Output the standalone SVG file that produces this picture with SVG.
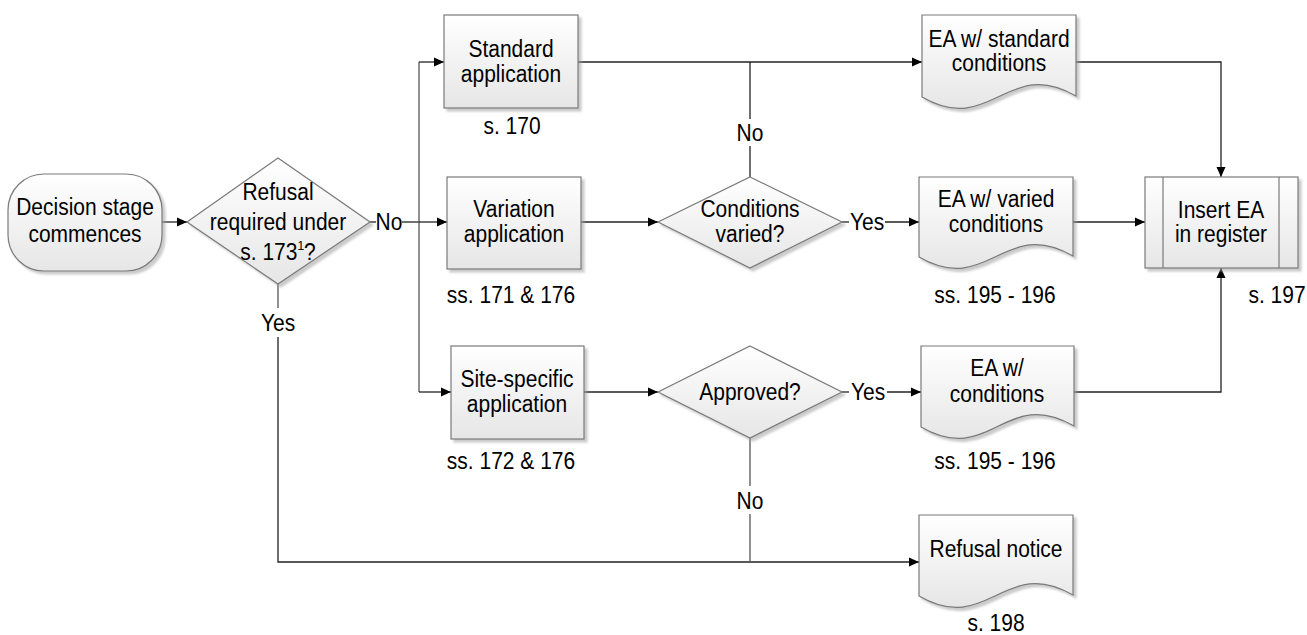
<svg xmlns="http://www.w3.org/2000/svg" width="1307" height="635" viewBox="0 0 1307 635">
<defs>
<linearGradient id="g" x1="0" y1="0" x2="0" y2="1">
<stop offset="0" stop-color="#ffffff"/>
<stop offset="1" stop-color="#e6e6e6"/>
</linearGradient>
<filter id="sh" x="-10%" y="-10%" width="130%" height="130%">
<feDropShadow dx="3" dy="3" stdDeviation="1.2" flood-color="#a0a0a0" flood-opacity="0.55"/>
</filter>
<marker id="arr" viewBox="0 0 10 10" refX="10" refY="5" markerWidth="10" markerHeight="10" markerUnits="userSpaceOnUse" orient="auto">
<path d="M0,0.5 L10,5 L0,9.5 Z" fill="#000"/>
</marker>
</defs>
<style>
.s{fill:url(#g);stroke:#7a7a7a;stroke-width:1.2;filter:url(#sh)}
.ln{fill:none;stroke:#7a7a7a;stroke-width:1.2}
.c{fill:none;stroke:#222;stroke-width:1.3}
.ca{fill:none;stroke:#222;stroke-width:1.3;marker-end:url(#arr)}
.b{fill:none;stroke:#555;stroke-width:1.3}
text{font-family:"Liberation Sans",Arial,sans-serif;font-size:21px;fill:#000;text-anchor:middle}
</style>

<g id="connectors">
<path class="ca" d="M162,222 H187"/>
<path class="c" d="M370,222 H376"/>
<path class="c" d="M402,222 H419"/>
<path class="b" d="M419,62 V392"/>
<path class="ca" d="M419,62 H444"/>
<path class="ca" d="M419,222 H447"/>
<path class="ca" d="M419,392 H451"/>
<path class="ca" d="M578,62 H922"/>
<path class="c" d="M750,177 V146"/>
<path class="c" d="M750,119 V62"/>
<path class="ca" d="M1076,62 H1221 V177"/>
<path class="ca" d="M581,222 H658"/>
<path class="c" d="M842,222 H849"/>
<path class="ca" d="M885,222 H919"/>
<path class="ca" d="M1073,222 H1145"/>
<path class="ca" d="M584,392 H658"/>
<path class="c" d="M842,392 H849"/>
<path class="ca" d="M887,392 H921"/>
<path class="ca" d="M1074,392 H1221 V268"/>
<path class="b" d="M278,284 V308"/>
<path class="ca" d="M278,337 V562 H919"/>
<path class="b" d="M750,438 V486"/>
<path class="b" d="M750,514 V562"/>
<text transform="translate(389 230) scale(1 1.12)">No</text>
<text transform="translate(750 141) scale(1 1.12)">No</text>
<text transform="translate(867 230) scale(1 1.12)">Yes</text>
<text transform="translate(868 400) scale(1 1.12)">Yes</text>
<text transform="translate(278 331) scale(1 1.12)">Yes</text>
<text transform="translate(750 509) scale(1 1.12)">No</text>
</g>

<g id="start">
<rect class="s" x="8" y="174" width="154" height="97" rx="36" ry="36"/>
<text transform="translate(85 215) scale(1 1.12)">Decision stage</text>
<text transform="translate(85 242) scale(1 1.12)">commences</text>
</g>

<g id="refusal-decision">
<polygon class="s" points="278,158 370,222 278,284 187,222"/>
<text transform="translate(278 200) scale(1 1.12)">Refusal</text>
<text transform="translate(278 230) scale(1 1.12)">required under</text>
<text transform="translate(278 260) scale(1 1.12)">s. 173<tspan font-size="12" dy="-9">1</tspan><tspan dy="9">?</tspan></text>
</g>

<g id="standard-app">
<rect class="s" x="444" y="15" width="134" height="93"/>
<text transform="translate(511 57) scale(1 1.12)">Standard</text>
<text transform="translate(511 82) scale(1 1.12)">application</text>
<text transform="translate(512 134) scale(1 1.12)">s. 170</text>
</g>

<g id="variation-app">
<rect class="s" x="447" y="177" width="134" height="92"/>
<text transform="translate(514 217) scale(1 1.12)">Variation</text>
<text transform="translate(514 242) scale(1 1.12)">application</text>
<text transform="translate(511 303) scale(1 1.12)">ss. 171 &amp; 176</text>
</g>

<g id="site-app">
<rect class="s" x="451" y="346" width="133" height="93"/>
<text transform="translate(517 387) scale(1 1.12)">Site-specific</text>
<text transform="translate(517 412) scale(1 1.12)">application</text>
<text transform="translate(511 469) scale(1 1.12)">ss. 172 &amp; 176</text>
</g>

<g id="conditions-varied">
<polygon class="s" points="750,177 842,222 750,268 658,222"/>
<text transform="translate(750 217) scale(1 1.12)">Conditions</text>
<text transform="translate(750 242) scale(1 1.12)">varied?</text>
</g>

<g id="approved">
<polygon class="s" points="750,346 842,392 750,438 658,392"/>
<text transform="translate(750 400) scale(1 1.12)">Approved?</text>
</g>

<g id="ea-standard">
<path class="s" d="M922,15 H1076 V96 C1007,56 991,137 922,97 Z"/>
<text transform="translate(999 47) scale(1 1.12)">EA w/ standard</text>
<text transform="translate(999 71) scale(1 1.12)">conditions</text>
</g>

<g id="ea-varied">
<path class="s" d="M919,177 H1073 V256 C1004,216 988,297 919,257 Z"/>
<text transform="translate(996 207) scale(1 1.12)">EA w/ varied</text>
<text transform="translate(996 232) scale(1 1.12)">conditions</text>
<text transform="translate(995 303) scale(1 1.12)">ss. 195 - 196</text>
</g>

<g id="ea-conditions">
<path class="s" d="M921,346 H1074 V426 C1005,386 990,467 921,427 Z"/>
<text transform="translate(997 376) scale(1 1.12)">EA w/</text>
<text transform="translate(997 402) scale(1 1.12)">conditions</text>
<text transform="translate(995 469) scale(1 1.12)">ss. 195 - 196</text>
</g>

<g id="insert-ea">
<rect class="s" x="1145" y="177" width="153" height="91"/>
<path class="ln" d="M1163,177 V268 M1279,177 V268"/>
<text transform="translate(1221 218) scale(1 1.12)">Insert EA</text>
<text transform="translate(1221 242) scale(1 1.12)">in register</text>
<text transform="translate(1277 303) scale(1 1.12)">s. 197</text>
</g>

<g id="refusal-notice">
<path class="s" d="M919,515 H1073 V595 C1004,555 988,636 919,596 Z"/>
<text transform="translate(996 557) scale(1 1.12)">Refusal notice</text>
<text transform="translate(996 631) scale(1 1.12)">s. 198</text>
</g>
</svg>
